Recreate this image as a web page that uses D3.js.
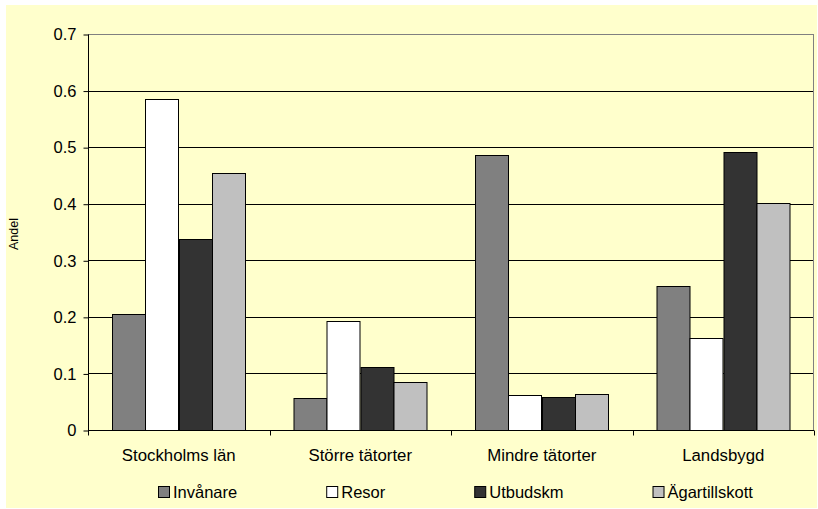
<!DOCTYPE html>
<html>
<head>
<meta charset="utf-8">
<script src="https://cdn.jsdelivr.net/npm/d3@7"></script>
<style>
  html, body { margin: 0; padding: 0; background: #ffffff; }
  svg { display: block; font-family: "Liberation Sans", Arial, sans-serif; }
</style>
</head>
<body>
<svg id="chart" width="818" height="509"></svg>
<script>
// Andel per områdestyp
const categories = ["Stockholms län", "Större tätorter", "Mindre tätorter", "Landsbygd"];
const seriesNames = ["Invånare", "Resor", "Utbudskm", "Ägartillskott"];
const invanare = [0.205, 0.056, 0.486, 0.254];
const resor = [0.585, 0.193, 0.061, 0.163];
const utbudskm = [0.338, 0.112, 0.058, 0.492];
const agartillskott = [0.454, 0.084, 0.063, 0.401];
const yTicks = [0, 0.1, 0.2, 0.3, 0.4, 0.5, 0.6, 0.7];
const yLabel = "Andel";

const seriesValues = [invanare, resor, utbudskm, agartillskott];
const colors = ["#808080", "#ffffff", "#333333", "#c0c0c0"];

const svg = d3.select("#chart");
const plot = { left: 88, right: 814, top: 34, bottom: 430 };

// chart background
svg.append("rect")
  .attr("x", 6).attr("y", 5)
  .attr("width", 811).attr("height", 503)
  .attr("fill", "#ffffcc");

const x0 = d3.scaleBand()
  .domain(categories)
  .range([plot.left, plot.right])
  .paddingInner(0).paddingOuter(0);

const x1 = d3.scaleBand()
  .domain(seriesNames)
  .range([0, x0.bandwidth()])
  .paddingInner(0).paddingOuter(0.717);

const y = d3.scaleLinear()
  .domain([0, 0.7])
  .range([plot.bottom, plot.top]);

// horizontal gridlines
svg.append("g")
  .selectAll("line")
  .data(yTicks.filter(t => t > 0 && t < 0.7))
  .join("line")
  .attr("x1", plot.left).attr("x2", plot.right)
  .attr("y1", d => Math.round(y(d)) + 0.5)
  .attr("y2", d => Math.round(y(d)) + 0.5)
  .attr("stroke", "#000")
  .attr("stroke-width", 1)
  .attr("shape-rendering", "crispEdges");

// plot area frame (top and right)
svg.append("path")
  .attr("d", `M${plot.left},${Math.round(y(0.7)) + 0.5}H${plot.right - 0.5}V${plot.bottom}`)
  .attr("fill", "none")
  .attr("stroke", "#808080")
  .attr("stroke-width", 1.5)
  .attr("shape-rendering", "crispEdges");

// bars
const rows = categories.map((c, i) => ({
  category: c,
  values: seriesNames.map((s, j) => ({ series: s, value: seriesValues[j][i], color: colors[j] }))
}));

svg.append("g")
  .selectAll("g")
  .data(rows)
  .join("g")
  .attr("transform", d => `translate(${x0(d.category)},0)`)
  .selectAll("rect")
  .data(d => d.values)
  .join("rect")
  .attr("x", d => Math.round(x1(d.series)) + 0.5)
  .attr("width", d => Math.round(x1.bandwidth()))
  .attr("y", d => Math.round(y(d.value)) + 0.5)
  .attr("height", d => Math.round(y(0)) - Math.round(y(d.value)))
  .attr("fill", d => d.color)
  .attr("stroke", "#000")
  .attr("stroke-width", 1);

// y axis
const yAxis = d3.axisLeft(y)
  .tickValues(yTicks)
  .tickFormat(d => d === 0 ? "0" : d3.format(".1f")(d))
  .tickSize(5)
  .tickPadding(7);

const gy = svg.append("g")
  .attr("transform", `translate(${plot.left + 0.5},0.5)`)
  .call(yAxis);
gy.select(".domain").attr("d", `M0,${plot.top}V${plot.bottom}`).attr("stroke", "#000");
gy.selectAll(".tick line").attr("stroke", "#000");
gy.selectAll("text")
  .attr("font-family", "'Liberation Sans', Arial, sans-serif")
  .attr("font-size", "16.5px")
  .attr("fill", "#000");

// x axis with tick marks at category boundaries
const gx = svg.append("g")
  .attr("transform", `translate(0,${plot.bottom + 0.5})`);
gx.append("line")
  .attr("x1", plot.left).attr("x2", plot.right)
  .attr("stroke", "#000");
const boundaries = categories.map(c => x0(c)).concat([plot.right]);
gx.selectAll("line.bd")
  .data(boundaries)
  .join("line")
  .attr("class", "bd")
  .attr("x1", d => Math.round(d) + 0.5).attr("x2", d => Math.round(d) + 0.5)
  .attr("y1", 0).attr("y2", 5)
  .attr("stroke", "#000");
gx.selectAll("text")
  .data(categories)
  .join("text")
  .attr("x", d => x0(d) + x0.bandwidth() / 2)
  .attr("y", 30)
  .attr("text-anchor", "middle")
  .attr("font-size", "16.8px")
  .attr("fill", "#000")
  .text(d => d);

// y axis title
svg.append("text")
  .attr("transform", `translate(18,234) rotate(-90)`)
  .attr("text-anchor", "middle")
  .attr("font-size", "12.5px")
  .attr("fill", "#000")
  .text(yLabel);

// legend
const legend = svg.append("g").attr("transform", "translate(158,486)");
let lx = 0;
seriesNames.forEach((name, i) => {
  const item = legend.append("g").attr("transform", `translate(${lx},0)`);
  item.append("rect")
    .attr("x", 0.5).attr("y", 0.5)
    .attr("width", 11).attr("height", 11)
    .attr("fill", colors[i])
    .attr("stroke", "#000");
  const t = item.append("text")
    .attr("x", 15).attr("y", 12)
    .attr("font-size", "16.5px")
    .attr("fill", "#000")
    .text(name);
  lx += 15 + t.node().getComputedTextLength() + 89;
});
</script>
</body>
</html>
